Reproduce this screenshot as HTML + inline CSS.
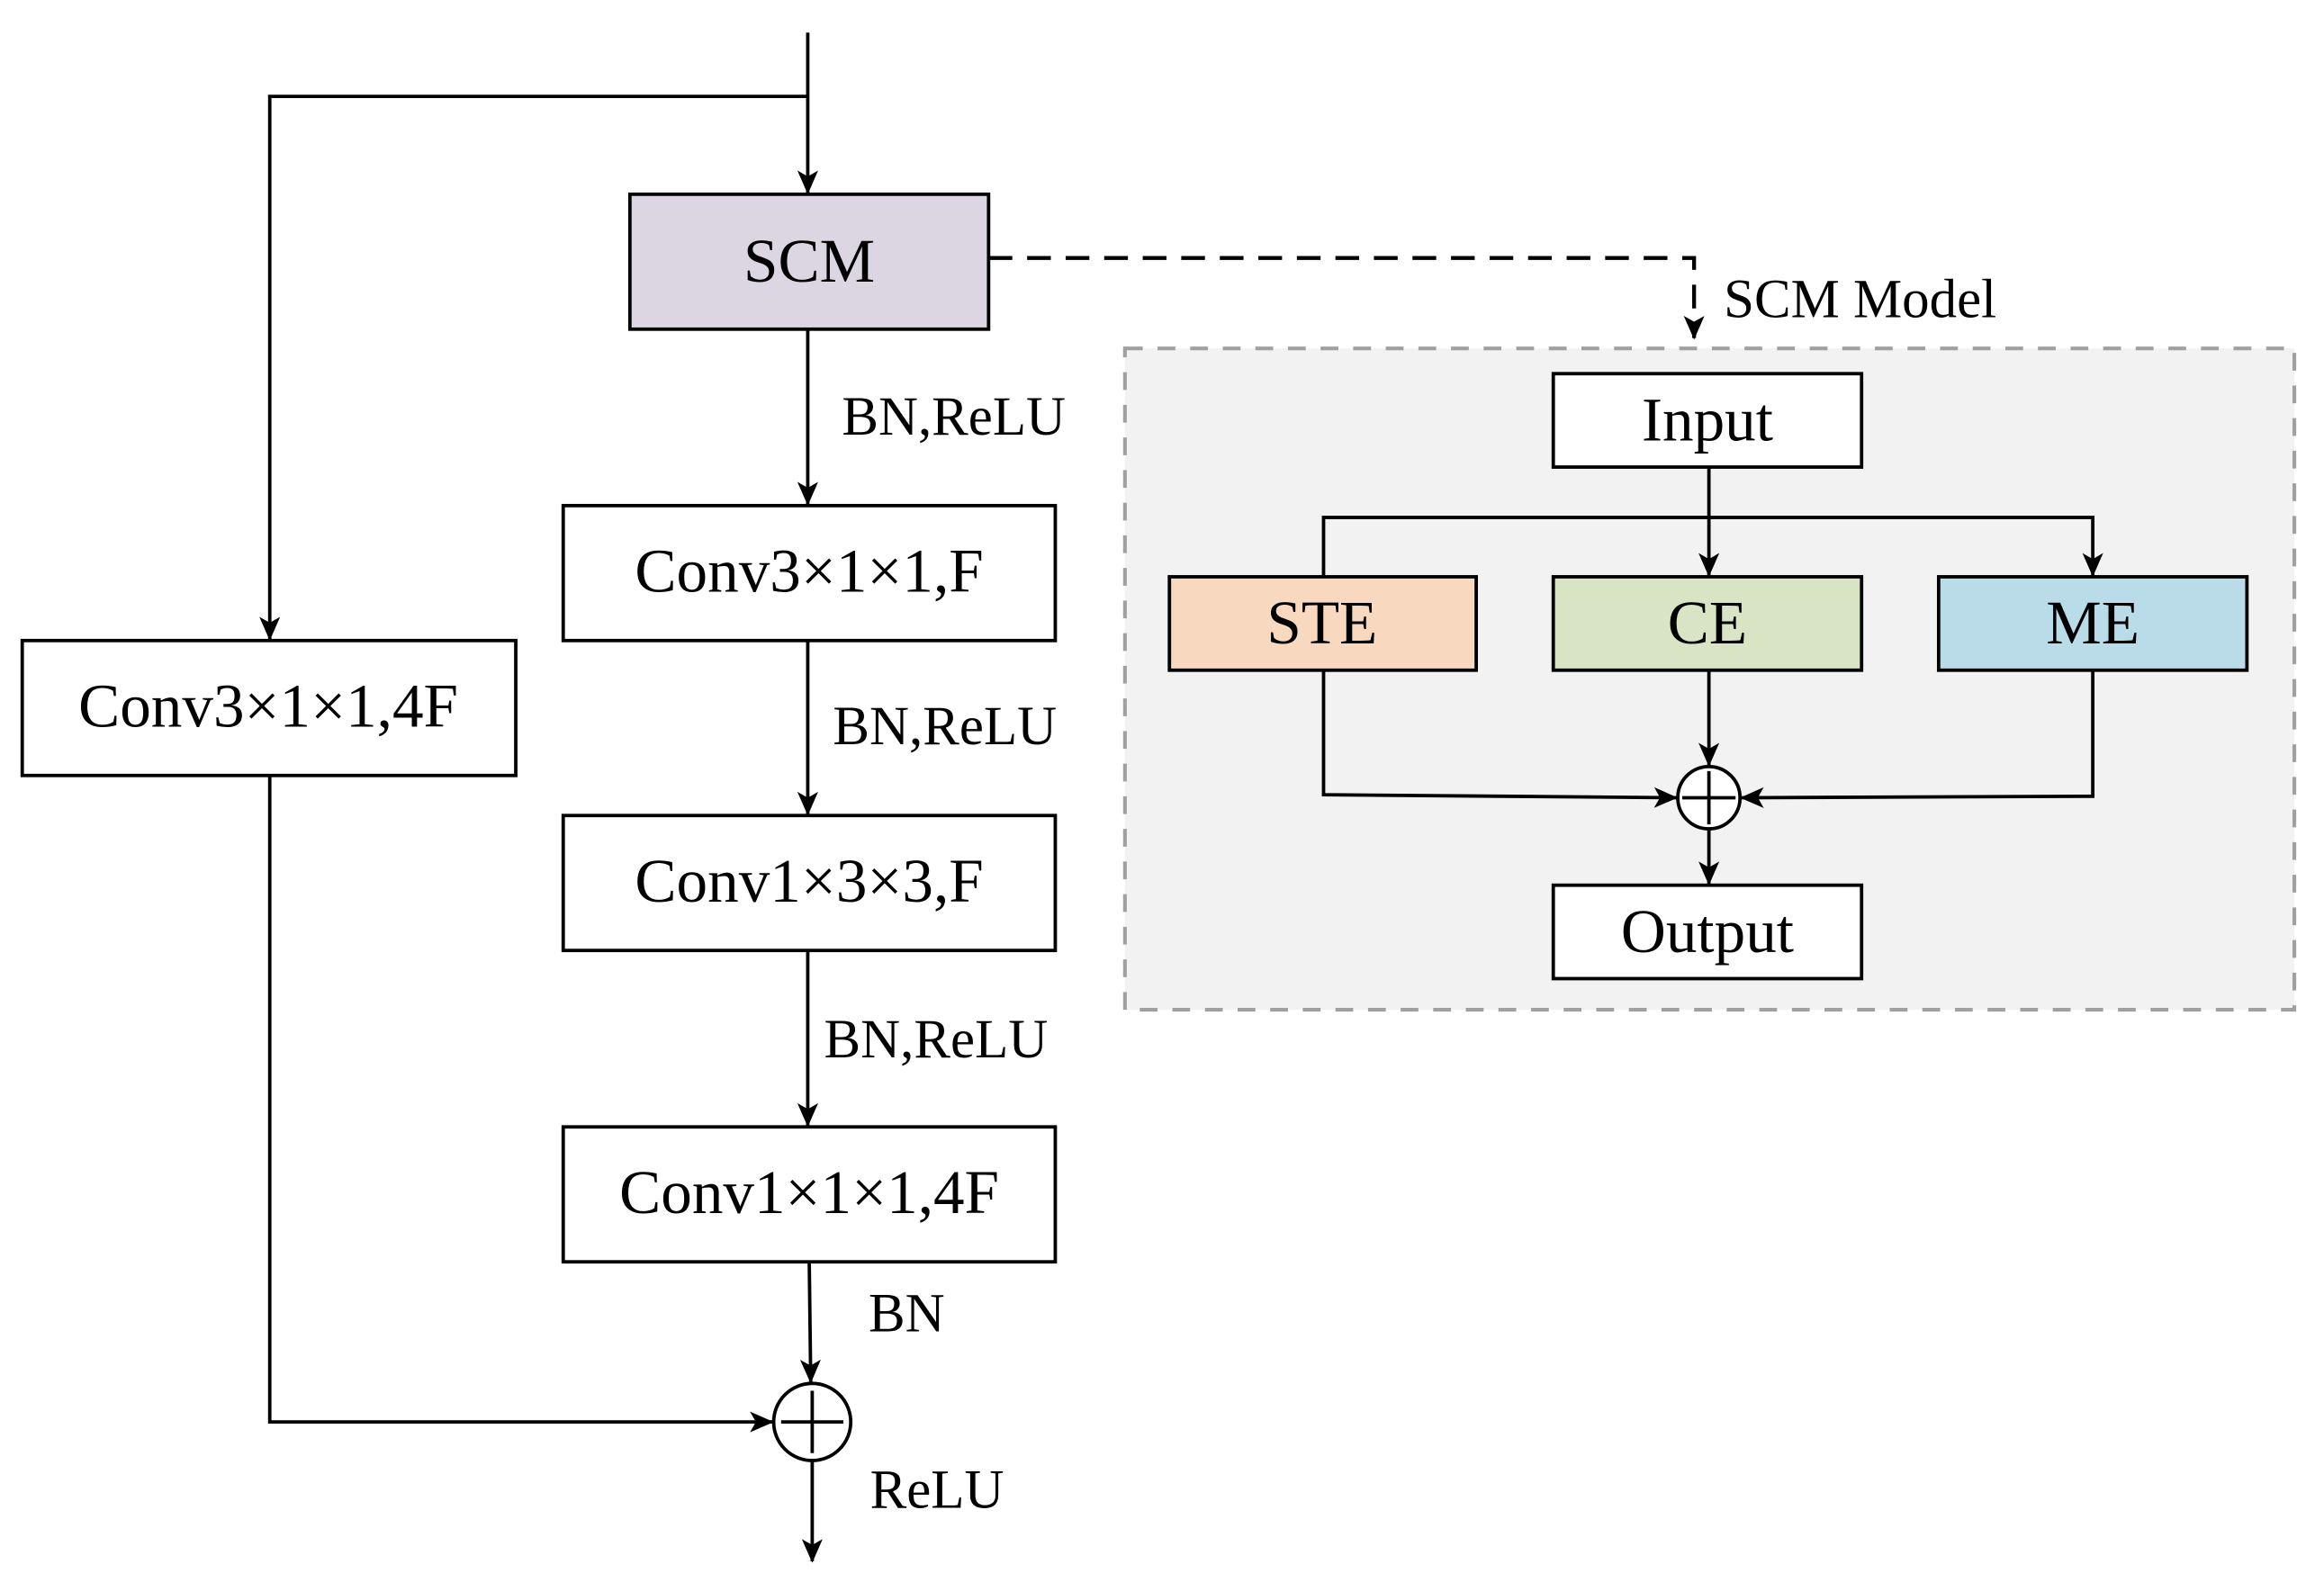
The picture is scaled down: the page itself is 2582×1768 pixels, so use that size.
<!DOCTYPE html>
<html><head><style>html,body{margin:0;padding:0;background:#fff}svg{display:block}</style></head>
<body>
<svg width="2582" height="1768" viewBox="0 0 1568 1073" preserveAspectRatio="none" xmlns="http://www.w3.org/2000/svg" font-family="Liberation Serif, serif">
<defs>
<marker id="b" markerWidth="16" markerHeight="14" refX="15" refY="7" orient="auto" markerUnits="userSpaceOnUse"><path d="M0,0 L16,7 L0,14 L4,7 z" fill="#000"/></marker>
</defs>
<rect x="759" y="235" width="789" height="446" fill="#f2f2f2" stroke="#a0a0a0" stroke-width="2.5" stroke-dasharray="12,10"/>
<g stroke="#000" stroke-width="2.3" fill="none">
<line x1="545" y1="22" x2="545" y2="130" marker-end="url(#b)"/>
<polyline points="545,65 182,65 182,431" marker-end="url(#b)"/>
<line x1="545" y1="222" x2="545" y2="340" marker-end="url(#b)"/>
<line x1="545" y1="432" x2="545" y2="549" marker-end="url(#b)"/>
<line x1="545" y1="641" x2="545" y2="759" marker-end="url(#b)"/>
<line x1="546" y1="851" x2="547" y2="932" marker-end="url(#b)"/>
<polyline points="182,523 182,959 521,959" marker-end="url(#b)"/>
<line x1="548" y1="985" x2="548" y2="1053" marker-end="url(#b)"/>
<polyline points="667,174 1143,174 1143,228" stroke-width="2.6" stroke-dasharray="16,10" marker-end="url(#b)"/>
<line x1="1153" y1="315" x2="1153" y2="388" marker-end="url(#b)"/>
<polyline points="893,388 893,349 1412,349 1412,388" marker-end="url(#b)"/>
<polyline points="893,452 893,536 1131,538" marker-end="url(#b)"/>
<line x1="1153" y1="452" x2="1153" y2="516" marker-end="url(#b)"/>
<polyline points="1412,452 1412,537 1175,538" marker-end="url(#b)"/>
<line x1="1153" y1="559" x2="1153" y2="596" marker-end="url(#b)"/>
</g>
<g stroke="#000" stroke-width="2.3">
<rect x="425" y="131" width="242" height="91" fill="#dcd6e3"/>
<rect x="380" y="341" width="332" height="91" fill="#fff"/>
<rect x="380" y="550" width="332" height="91" fill="#fff"/>
<rect x="380" y="760" width="332" height="91" fill="#fff"/>
<rect x="15" y="432" width="333" height="91" fill="#fff"/>
<rect x="1048" y="252" width="208" height="63" fill="#fff"/>
<rect x="789" y="389" width="207" height="63" fill="#f8d8bf"/>
<rect x="1048" y="389" width="208" height="63" fill="#d8e4c3"/>
<rect x="1308" y="389" width="208" height="63" fill="#b9dce8"/>
<rect x="1048" y="597" width="208" height="63" fill="#fff"/>
<circle cx="548" cy="959" r="26" fill="#fff"/>
<line x1="548" y1="938" x2="548" y2="980"/><line x1="527" y1="959" x2="569" y2="959"/>
<circle cx="1153" cy="538" r="21" fill="#fff"/>
<line x1="1153" y1="520" x2="1153" y2="556"/><line x1="1135" y1="538" x2="1171" y2="538"/>
</g>
<g font-size="42" text-anchor="middle" fill="#000">
<text x="546" y="190">SCM</text>
<text x="546" y="399">Conv3×1×1,F</text>
<text x="546" y="608">Conv1×3×3,F</text>
<text x="546" y="818">Conv1×1×1,4F</text>
<text x="181" y="490">Conv3×1×1,4F</text>
<text x="1152" y="297">Input</text>
<text x="892" y="434">STE</text>
<text x="1152" y="434">CE</text>
<text x="1412" y="434">ME</text>
<text x="1152" y="642">Output</text>
</g>
<g font-size="37" fill="#000">
<text x="568" y="293">BN,ReLU</text>
<text x="562" y="502">BN,ReLU</text>
<text x="556" y="713">BN,ReLU</text>
<text x="586" y="898">BN</text>
<text x="587" y="1017">ReLU</text>
<text x="1163" y="214">SCM Model</text>
</g>
</svg>
</body></html>
